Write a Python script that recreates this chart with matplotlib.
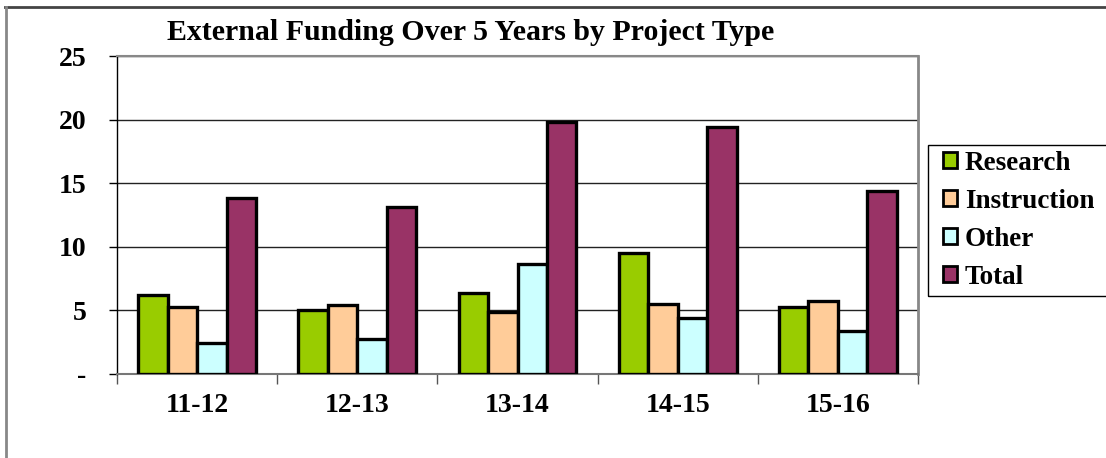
import matplotlib
matplotlib.use("Agg")
import matplotlib.pyplot as plt
from matplotlib.patches import Patch, Rectangle
from matplotlib.lines import Line2D
import numpy as np

categories = ["11-12", "12-13", "13-14", "14-15", "15-16"]
research = [6.2, 5.0, 6.4, 9.5, 5.25]
instruction = [5.3, 5.4, 4.9, 5.5, 5.75]
other = [2.4, 2.75, 8.65, 4.4, 3.4]
total = [13.8, 13.1, 19.8, 19.4, 14.4]
series_names = ["Research", "Instruction", "Other", "Total"]
colors = ["#99CC00", "#FFCC99", "#CCFFFF", "#993366"]
yticks = [0, 5, 10, 15, 20, 25]

plt.rcParams['font.family'] = ['Liberation Serif', 'DejaVu Serif']
plt.rcParams['font.weight'] = 'bold'

fig = plt.figure(figsize=(11.06, 4.58), dpi=100)
ax = fig.add_axes([117/1106, 1-374/458, 801/1106, 318/458])

series = [research, instruction, other, total]
x = np.arange(len(categories))
w = 0.184
for j, (vals, c) in enumerate(zip(series, colors)):
    ax.bar(x + (j - 1.5) * w, vals, width=w, color=c, edgecolor='black',
           linewidth=2.4, zorder=3)

ax.set_xlim(-0.5, len(categories) - 0.5)
ax.set_ylim(0, 25)
ax.set_yticks(yticks)
ax.set_yticklabels(['-' if v == 0 else str(v) for v in yticks], fontsize=20, fontweight='bold')
ax.set_xticks(x)
ax.set_xticklabels(categories, fontsize=20, fontweight='bold')
ax.tick_params(axis='x', length=0, pad=14)
ax.set_xticks(np.arange(-0.5, len(categories), 1.0), minor=True)
ax.tick_params(axis='x', which='minor', length=7, width=1, color='#555555', direction='out')
ax.tick_params(axis='y', length=6, width=1, color='black', direction='out', pad=16)

ax.yaxis.grid(True, color='#222222', linewidth=1, zorder=0)
ax.set_axisbelow(True)
ax.spines['left'].set_color('black')
ax.spines['left'].set_linewidth(1)
ax.spines['bottom'].set_color('#777777')
ax.spines['bottom'].set_linewidth(1.5)
ax.spines['top'].set_color('#888888')
ax.spines['top'].set_linewidth(1.5)
ax.spines['right'].set_color('#888888')
ax.spines['right'].set_linewidth(2)

fig.text(471/1106, 1-32/458, "External Funding Over 5 Years by Project Type",
         ha='center', va='center', fontsize=21.5, fontweight='bold')

handles = [Patch(facecolor=c, edgecolor='black', linewidth=2) for c in colors]
leg = fig.legend(handles, series_names, loc='center left',
                 bbox_to_anchor=(943/1106, 1-220/458), prop={'size': 19.5, 'weight': 'bold'},
                 frameon=False, borderaxespad=0,
                 handlelength=0.5, handleheight=0.5, handletextpad=0.3,
                 labelspacing=0.48, borderpad=0.0)
fig.add_artist(Rectangle((928/1106, 1-296/458), 190/1106, 151/458,
                         transform=fig.transFigure, facecolor='none',
                         edgecolor='black', linewidth=1, clip_on=False))

# outer chart frame (top and left edges visible)
fig.add_artist(Line2D([5/1106, 1], [1-7/458, 1-7/458], color='#444444', linewidth=2))
fig.add_artist(Line2D([6/1106, 6/1106], [0, 1-7/458], color='#888888', linewidth=2))

fig.savefig("out.png", dpi=100)
